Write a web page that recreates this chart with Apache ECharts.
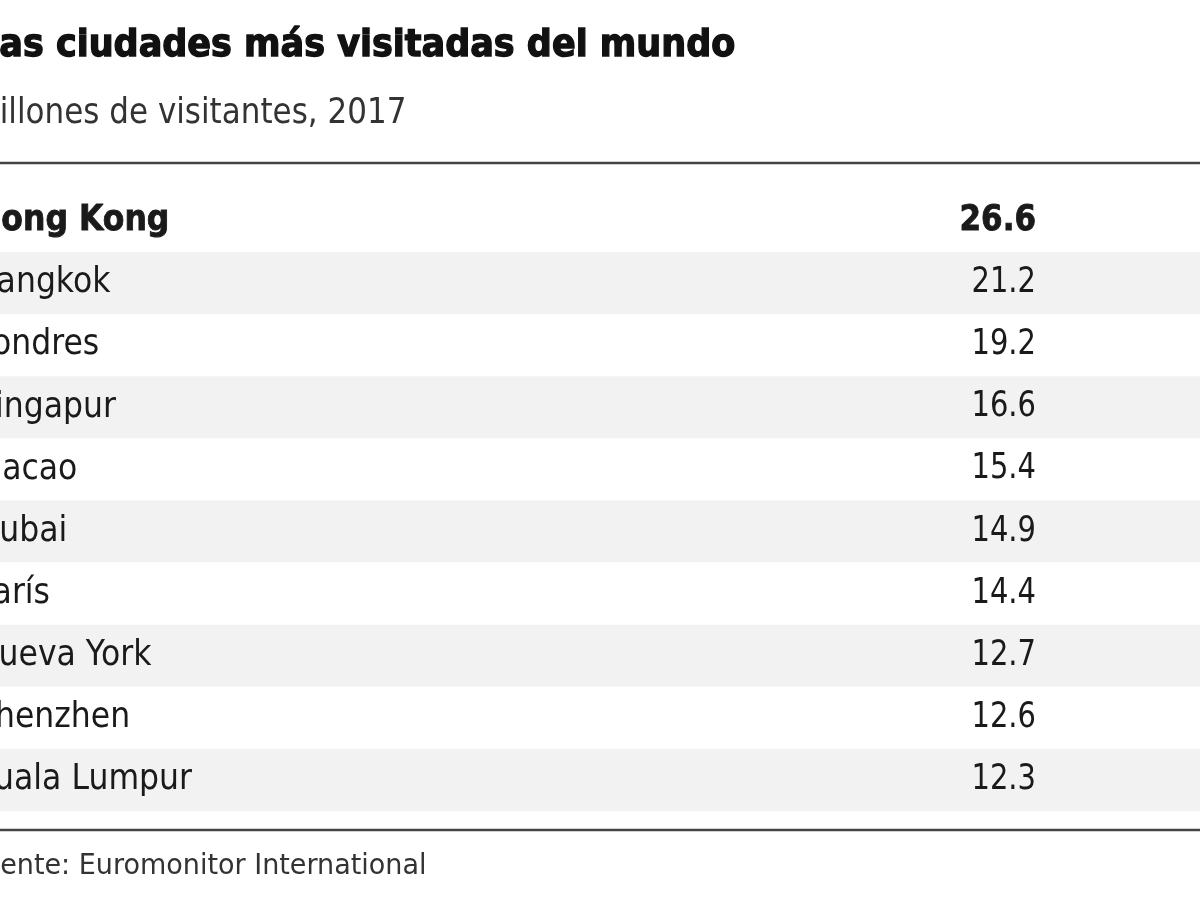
<!DOCTYPE html>
<html><head><meta charset="utf-8">
<script src="https://cdn.jsdelivr.net/npm/echarts@6/dist/echarts.min.js"></script>
<style>html,body{margin:0;padding:0;background:#fff;}#c{width:1200px;height:900px;}</style>
</head><body><div id="c"></div>
<script>
const cities = ['Hong Kong','Bangkok','Londres','Singapur','Macao','Dubai','París','Nueva York','Shenzhen','Kuala Lumpur'];
const visitors = [26.6, 21.2, 19.2, 16.6, 15.4, 14.9, 14.4, 12.7, 12.6, 12.3];
const titleText = 'Las ciudades más visitadas del mundo';
const subtitleText = 'Millones de visitantes, 2017';
const sourceText = 'Fuente: Euromonitor International';

const FONT = '"DejaVu Sans"';
const chart = echarts.init(document.getElementById('c'), null, {renderer: 'canvas'});
const rowsData = cities.map((c, i) => [i, visitors[i]]);

chart.setOption({
  backgroundColor: '#ffffff',
  animation: false,
  graphic: [
    {type: 'text', x: -23, y: 46, scaleY: 1.09, style: {
      text: titleText, fontFamily: FONT, fontWeight: 'bold', fontSize: 35,
      fill: '#111', stroke: '#111', lineWidth: 1.3, verticalAlign: 'middle', align: 'left'}},
    {type: 'text', x: -27, y: 114, scaleY: 1.15, style: {
      text: subtitleText, fontFamily: FONT, fontWeight: 'normal', fontSize: 31,
      fill: '#333', verticalAlign: 'middle', align: 'left'}},
    {type: 'text', x: -31, y: 867, scaleY: 1.05, style: {
      text: sourceText, fontFamily: FONT, fontWeight: 'normal', fontSize: 27,
      fill: '#333', verticalAlign: 'middle', align: 'left'}},
    {type: 'line', shape: {x1: 0, y1: 163, x2: 1200, y2: 163}, style: {stroke: '#444', lineWidth: 2.5}},
    {type: 'line', shape: {x1: 0, y1: 830, x2: 1200, y2: 830}, style: {stroke: '#444', lineWidth: 2.5}}
  ],
  grid: {left: 0, right: 0, top: 190, bottom: 89},
  xAxis: {type: 'value', min: 0, max: 1200, show: false},
  yAxis: {
    type: 'category', data: cities, inverse: true,
    axisLine: {show: false}, axisTick: {show: false}, axisLabel: {show: false},
    splitLine: {show: false},
    splitArea: {show: true, areaStyle: {color: ['#ffffff', '#f2f2f2']}}
  },
  series: [{
    type: 'custom',
    data: rowsData,
    renderItem: function (params, api) {
      const idx = api.value(0);
      const p = api.coord([0, idx]);
      const bold = idx === 0;
      return {
        type: 'group',
        children: [
          {type: 'text', x: -25, y: p[1], scaleY: 1.12, style: {
            text: cities[idx], fontFamily: FONT, fontSize: 31.5,
            fontWeight: bold ? 'bold' : 'normal', fill: '#1a1a1a',
            stroke: bold ? '#1a1a1a' : null, lineWidth: bold ? 0.8 : 0,
            verticalAlign: 'middle', align: 'left'}},
          {type: 'text', x: 1036, y: p[1], scaleY: bold ? 1.15 : 1.2, style: {
            text: api.value(1).toFixed(1), fontFamily: FONT, fontSize: bold ? 31 : 29,
            fontWeight: bold ? 'bold' : 'normal', fill: '#1a1a1a',
            stroke: bold ? '#1a1a1a' : null, lineWidth: bold ? 0.8 : 0,
            verticalAlign: 'middle', align: 'right'}}
        ]
      };
    }
  }]
});
</script></body></html>
